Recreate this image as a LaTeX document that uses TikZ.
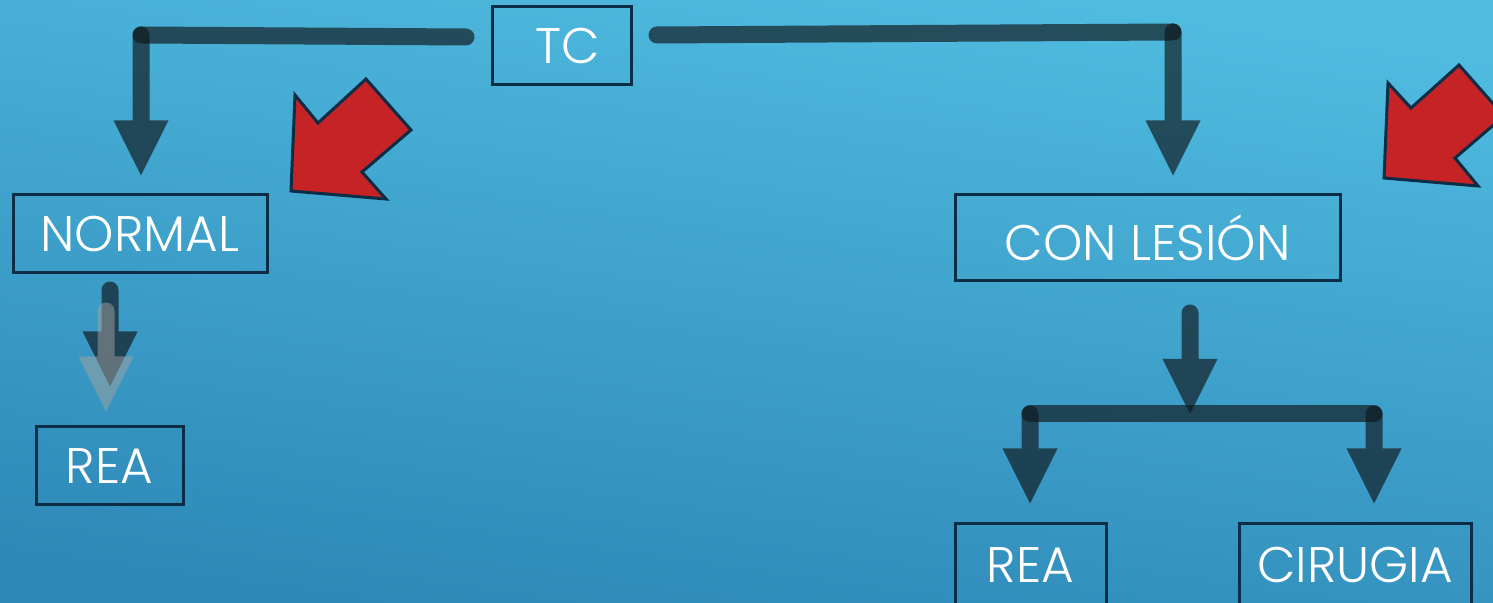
\documentclass[tikz,border=0pt]{standalone}
\usepackage{fontspec}
\setmainfont{Poppins Light}
\usetikzlibrary{arrows.meta}

\definecolor{bgtop}{HTML}{50BCE0}
\definecolor{bgbot}{HTML}{2E88B7}
\definecolor{edge}{HTML}{0C2D46}
\definecolor{barcol}{HTML}{10181D}
\definecolor{ghostcol}{HTML}{A5A2A0}
\definecolor{alarm}{HTML}{C52326}

\tikzset{
  box/.style={draw=edge, line width=1.5pt, text=white, inner sep=0pt,
    font=\fontsize{25}{29}\selectfont, minimum height=39pt},
  pipe/.style={draw=barcol, line width=8.5pt, line cap=round},
  bar/.style={pipe, draw opacity=.67},
  conn/.style={pipe, -{Triangle[length=27.5pt,width=27.5pt,line width=0pt]}},
  pointer/.style={fill=alarm, draw=edge, line width=1.5pt, line join=miter},
}

\begin{document}
\begin{tikzpicture}[x=0.5pt,y=-0.5pt]
\useasboundingbox (0,0) rectangle (1493,603);
\clip (0,0) rectangle (1493,603);
\shade[top color=bgtop, bottom color=bgbot, shading angle=-8] (0,0) rectangle (1493,603);

% boxes
\node[box, minimum width=69.5pt] (tc) at (561.5,46) {\hspace{6pt}TC};
\node[box, minimum width=127pt] (normal) at (140,234) {NORMAL};
\node[box, minimum width=73.5pt] (reaL) at (109.5,466) {REA\hspace{4pt}};
\node[box, minimum width=192.5pt, minimum height=43pt] (lesion) at (1147.5,238) {CON LESIÓN};
\node[box, minimum width=75.5pt, minimum height=41pt] (reaR) at (1030.5,565) {REA\hspace{10pt}};
\node[box, minimum width=116pt, minimum height=41pt] (cirugia) at (1355,565) {CIRUGIA};

% red pointers
\draw[pointer] (291,191) -- (295,95) -- (318,123) -- (366,79) -- (411,130)
  -- (362,172) -- (386,199) -- cycle;
\draw[pointer] (1384,178) -- (1388,83) -- (1411,108) -- (1459,65) -- (1504,116)
  -- (1455,158) -- (1478,186) -- cycle;

% corners and free ends
\coordinate (tL) at (466,37);
\coordinate (cL) at (141,35);
\coordinate (tR) at (657,35);
\coordinate (cR) at (1173,32);
\coordinate (nS) at (110,290);
\coordinate (gS) at (106,311);
\coordinate (lS) at (1190,313);
\coordinate (fork) at (1190,414);
\coordinate (bL) at (1030,414);
\coordinate (bR) at (1374,414);

\draw[bar] (tL) -- (cL);
\draw[bar] (tR) -- (cR);
\draw[bar] (bL) -- (bR);

\begin{scope}[transparency group, opacity=.67]
  \draw[conn, shorten >=9pt] (cL) -- (cL |- normal.north);
\end{scope}
\begin{scope}[transparency group, opacity=.67]
  \draw[conn, shorten >=9pt] (cR) -- (cR |- lesion.north);
\end{scope}
\begin{scope}[transparency group, opacity=.67]
  \draw[conn, shorten >=19.5pt] (nS) -- (nS |- reaL.north);
\end{scope}
\begin{scope}[transparency group, opacity=.5]
  \draw[conn, draw=ghostcol, shorten >=7pt] (gS) -- (gS |- reaL.north);
\end{scope}
\begin{scope}[transparency group, opacity=.67]
  \draw[conn] (lS) -- (fork);
\end{scope}
\begin{scope}[transparency group, opacity=.67]
  \draw[conn, shorten >=9.5pt] (bL) -- (bL |- reaR.north);
\end{scope}
\begin{scope}[transparency group, opacity=.67]
  \draw[conn, shorten >=9.5pt] (bR) -- (bR |- cirugia.north);
\end{scope}
\end{tikzpicture}
\end{document}
